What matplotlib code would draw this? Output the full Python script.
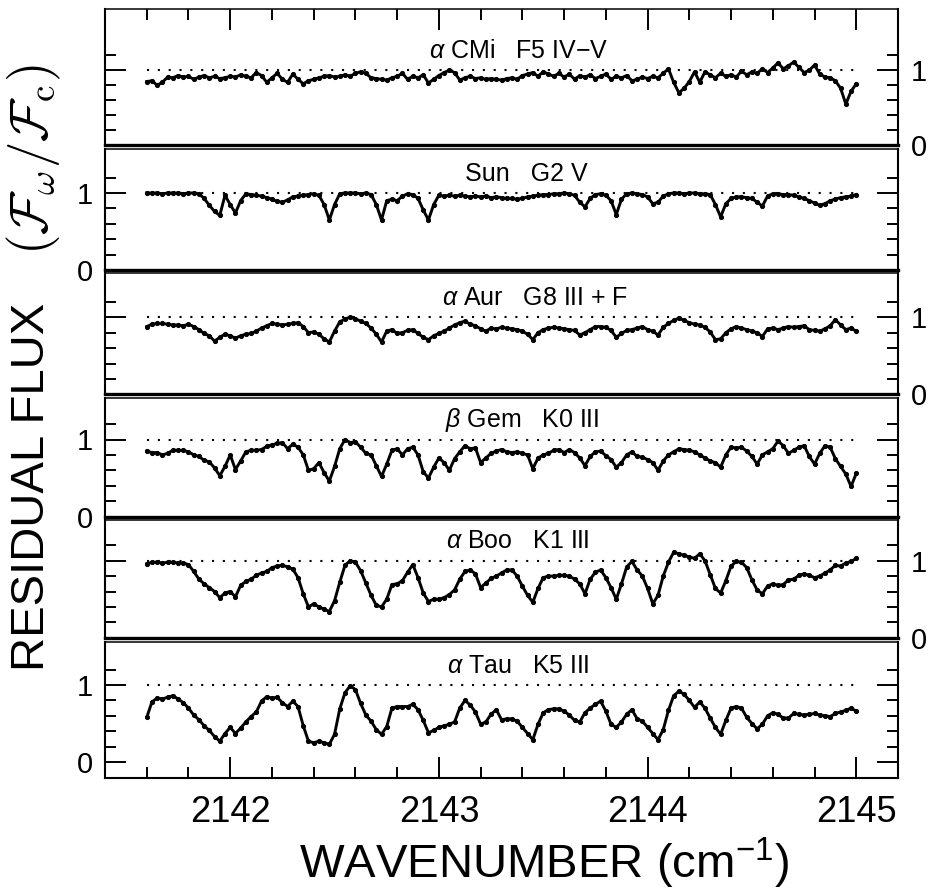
import numpy as np
import matplotlib
matplotlib.use("Agg")
import matplotlib.pyplot as plt
from matplotlib.ticker import MultipleLocator, FixedLocator

plt.rcParams['font.family'] = ['Liberation Sans', 'DejaVu Sans']
plt.rcParams['mathtext.fontset'] = 'custom'
plt.rcParams['mathtext.rm'] = 'Liberation Sans'
plt.rcParams['mathtext.it'] = 'Liberation Sans:italic'

# grille en nombre d'onde (pas de 0.025 cm-1)
wavenumber = np.linspace(2141.6, 2145.0, 137)

star_labels = [r"$\alpha$ CMi   F5 IV−V",
               "Sun   G2 V",
               r"$\alpha$ Aur   G8 III + F",
               r"$\beta$ Gem   K0 III",
               r"$\alpha$ Boo   K1 III",
               r"$\alpha$ Tau   K5 III"]

# flux residuel, un spectre par etoile
flux_cmi = [0.85, 0.86, 0.80, 0.84, 0.91, 0.90, 0.93, 0.91, 0.92, 0.88,
            0.91, 0.93, 0.90, 0.92, 0.89, 0.90, 0.92, 0.91, 0.94, 0.92,
            0.90, 0.97, 0.93, 0.84, 0.90, 0.96, 0.88, 0.84, 0.95, 0.88,
            0.82, 0.86, 0.88, 0.90, 0.92, 0.93, 0.91, 0.92, 0.94, 0.92,
            0.96, 0.98, 0.96, 0.90, 0.89, 0.88, 0.87, 0.90, 0.92, 0.96,
            0.88, 0.92, 0.90, 0.94, 0.83, 0.88, 0.93, 0.97, 1.00, 0.97,
            0.87, 0.90, 0.92, 0.89, 0.90, 0.88, 0.89, 0.88, 0.87, 0.89,
            0.90, 0.88, 0.93, 0.95, 0.97, 0.92, 0.98, 0.95, 0.92, 0.96,
            0.91, 0.95, 0.88, 0.93, 0.91, 0.94, 0.89, 0.92, 0.95, 0.88,
            0.92, 0.90, 0.93, 0.86, 0.88, 0.91, 0.89, 0.92, 0.90, 0.96,
            1.02, 0.84, 0.70, 0.76, 0.85, 0.98, 0.84, 0.98, 0.94, 0.90,
            0.96, 0.92, 0.94, 0.91, 0.99, 0.94, 0.98, 0.96, 1.02, 0.97,
            1.03, 1.10, 1.02, 1.06, 1.11, 1.04, 0.97, 1.00, 1.07, 0.95,
            0.91, 0.90, 0.86, 0.76, 0.55, 0.72, 0.82]

flux_sun = [1.00, 1.00, 1.00, 0.99, 1.00, 1.00, 1.00, 0.99, 1.00, 1.00,
            0.99, 0.93, 0.84, 0.76, 0.71, 0.97, 0.85, 0.74, 0.90, 0.99,
            0.98, 0.97, 0.96, 0.94, 0.92, 0.89, 0.88, 0.91, 0.95, 0.96,
            0.97, 0.98, 0.99, 0.97, 0.85, 0.65, 0.85, 0.99, 1.00, 1.00,
            1.00, 0.99, 1.00, 0.98, 0.85, 0.65, 0.90, 0.92, 0.90, 0.96,
            0.99, 0.98, 0.93, 0.78, 0.65, 0.85, 0.97, 0.96, 0.97, 0.96,
            0.97, 0.96, 0.95, 0.96, 0.95, 0.96, 0.94, 0.95, 0.94, 0.93,
            0.93, 0.92, 0.93, 0.95, 0.96, 0.97, 0.98, 0.98, 0.99, 0.99,
            1.00, 0.99, 0.97, 0.88, 0.82, 0.93, 0.98, 0.99, 0.97, 0.90,
            0.72, 0.92, 0.99, 1.00, 0.99, 0.98, 0.95, 0.86, 0.88, 0.96,
            0.99, 1.00, 1.00, 0.99, 1.00, 1.00, 0.99, 0.99, 0.98, 0.85,
            0.69, 0.86, 0.93, 0.95, 0.95, 0.94, 0.93, 0.88, 0.83, 0.96,
            0.99, 0.99, 0.98, 0.98, 0.97, 0.95, 0.93, 0.90, 0.87, 0.84,
            0.86, 0.90, 0.92, 0.94, 0.95, 0.96, 0.98]

flux_aur = [0.88, 0.91, 0.92, 0.92, 0.91, 0.90, 0.90, 0.89, 0.91, 0.88,
            0.84, 0.79, 0.76, 0.69, 0.74, 0.78, 0.76, 0.73, 0.76, 0.78,
            0.79, 0.82, 0.86, 0.89, 0.92, 0.91, 0.90, 0.91, 0.92, 0.93,
            0.88, 0.80, 0.81, 0.78, 0.72, 0.68, 0.82, 0.94, 0.98, 1.00,
            0.98, 0.95, 0.92, 0.86, 0.78, 0.68, 0.82, 0.84, 0.79, 0.80,
            0.83, 0.84, 0.79, 0.74, 0.71, 0.76, 0.79, 0.82, 0.86, 0.90,
            0.93, 0.95, 0.91, 0.89, 0.85, 0.82, 0.86, 0.85, 0.87, 0.86,
            0.85, 0.84, 0.82, 0.78, 0.71, 0.80, 0.84, 0.86, 0.87, 0.86,
            0.85, 0.84, 0.83, 0.77, 0.80, 0.84, 0.88, 0.88, 0.87, 0.83,
            0.74, 0.79, 0.83, 0.84, 0.86, 0.88, 0.84, 0.82, 0.77, 0.87,
            0.92, 0.96, 0.99, 0.96, 0.93, 0.91, 0.90, 0.87, 0.81, 0.71,
            0.72, 0.80, 0.85, 0.88, 0.86, 0.84, 0.82, 0.80, 0.75, 0.85,
            0.86, 0.84, 0.86, 0.88, 0.87, 0.88, 0.89, 0.84, 0.83, 0.82,
            0.85, 0.89, 0.97, 0.90, 0.84, 0.86, 0.82]

flux_gem = [0.85, 0.83, 0.83, 0.80, 0.82, 0.86, 0.86, 0.86, 0.84, 0.80,
            0.78, 0.73, 0.71, 0.63, 0.53, 0.65, 0.80, 0.61, 0.72, 0.84,
            0.86, 0.86, 0.87, 0.91, 0.93, 0.95, 0.96, 0.88, 0.94, 0.90,
            0.80, 0.60, 0.62, 0.70, 0.57, 0.46, 0.65, 0.88, 1.00, 0.96,
            0.97, 0.90, 0.82, 0.80, 0.66, 0.52, 0.68, 0.86, 0.88, 0.80,
            0.88, 0.90, 0.80, 0.58, 0.50, 0.64, 0.76, 0.70, 0.60, 0.75,
            0.84, 0.92, 0.88, 0.89, 0.70, 0.76, 0.82, 0.85, 0.87, 0.84,
            0.83, 0.84, 0.82, 0.80, 0.62, 0.76, 0.80, 0.82, 0.86, 0.87,
            0.83, 0.87, 0.83, 0.76, 0.66, 0.78, 0.84, 0.85, 0.79, 0.74,
            0.64, 0.70, 0.80, 0.84, 0.78, 0.77, 0.74, 0.70, 0.60, 0.72,
            0.80, 0.84, 0.88, 0.87, 0.86, 0.84, 0.80, 0.76, 0.72, 0.70,
            0.64, 0.80, 0.90, 0.89, 0.90, 0.85, 0.78, 0.68, 0.80, 0.84,
            0.88, 0.98, 0.92, 0.82, 0.86, 0.90, 0.92, 0.78, 0.68, 0.82,
            0.92, 0.90, 0.75, 0.65, 0.55, 0.39, 0.56]

flux_boo = [0.96, 0.98, 0.98, 0.97, 0.98, 0.98, 0.97, 0.97, 0.95, 0.86,
            0.76, 0.70, 0.65, 0.60, 0.52, 0.58, 0.60, 0.53, 0.68, 0.73,
            0.76, 0.81, 0.84, 0.86, 0.91, 0.93, 0.94, 0.92, 0.89, 0.78,
            0.57, 0.40, 0.44, 0.40, 0.37, 0.34, 0.48, 0.72, 0.94, 1.00,
            0.98, 0.87, 0.71, 0.55, 0.42, 0.40, 0.50, 0.69, 0.70, 0.74,
            0.85, 0.95, 0.78, 0.58, 0.47, 0.50, 0.50, 0.52, 0.56, 0.62,
            0.76, 0.86, 0.88, 0.83, 0.65, 0.71, 0.77, 0.80, 0.84, 0.88,
            0.88, 0.80, 0.67, 0.55, 0.46, 0.64, 0.78, 0.80, 0.80, 0.81,
            0.81, 0.80, 0.76, 0.70, 0.57, 0.76, 0.85, 0.88, 0.78, 0.65,
            0.50, 0.70, 0.92, 0.99, 0.88, 0.80, 0.64, 0.44, 0.55, 0.80,
            0.98, 1.11, 1.09, 1.07, 1.05, 1.03, 1.09, 1.00, 0.82, 0.64,
            0.58, 0.74, 0.93, 0.99, 0.98, 0.91, 0.75, 0.62, 0.57, 0.67,
            0.70, 0.68, 0.69, 0.75, 0.76, 0.81, 0.83, 0.81, 0.78, 0.80,
            0.84, 0.88, 0.94, 0.93, 0.97, 0.99, 1.03]

flux_tau = [0.58, 0.78, 0.83, 0.82, 0.84, 0.86, 0.82, 0.77, 0.70, 0.61,
            0.55, 0.47, 0.41, 0.33, 0.27, 0.37, 0.45, 0.37, 0.44, 0.52,
            0.59, 0.65, 0.79, 0.85, 0.83, 0.84, 0.77, 0.72, 0.79, 0.72,
            0.47, 0.27, 0.25, 0.27, 0.25, 0.23, 0.36, 0.69, 0.90, 0.99,
            0.94, 0.76, 0.61, 0.53, 0.42, 0.36, 0.46, 0.70, 0.72, 0.72,
            0.72, 0.75, 0.68, 0.54, 0.38, 0.41, 0.45, 0.47, 0.49, 0.52,
            0.70, 0.80, 0.74, 0.65, 0.49, 0.52, 0.62, 0.68, 0.55, 0.56,
            0.56, 0.53, 0.45, 0.37, 0.29, 0.49, 0.64, 0.68, 0.69, 0.69,
            0.66, 0.61, 0.54, 0.52, 0.64, 0.70, 0.75, 0.79, 0.66, 0.49,
            0.45, 0.52, 0.62, 0.68, 0.56, 0.53, 0.45, 0.37, 0.29, 0.42,
            0.67, 0.86, 0.92, 0.88, 0.80, 0.71, 0.78, 0.70, 0.57, 0.45,
            0.36, 0.54, 0.70, 0.72, 0.70, 0.58, 0.50, 0.43, 0.49, 0.60,
            0.64, 0.62, 0.57, 0.57, 0.63, 0.62, 0.61, 0.62, 0.63, 0.61,
            0.60, 0.59, 0.63, 0.65, 0.67, 0.70, 0.66]

spectres = [flux_cmi, flux_sun, flux_aur, flux_gem, flux_boo, flux_tau]

# position des panneaux en pixels (haut, bas, niveau zero) et echelle px par unite
W, H = 930, 889
haut = [9.3, 149.3, 273.3, 398.0, 520.0, 641.7]
bas = [145.3, 270.0, 394.3, 516.5, 637.7, 778.3]
zero = [145.3, 270.0, 394.3, 516.5, 637.7, 762.0]
px_unite = [75, 77, 77, 77, 77, 77]
cote_label = ['right', 'left', 'right', 'left', 'right', 'left']
x_titre = [2143.38, 2143.42, 2143.46, 2143.40, 2143.38, 2143.38]

x_gauche, x_droite = 105, 898

fig = plt.figure(figsize=(9.3, 8.89), dpi=100)

for k in range(6):
    ax = fig.add_axes([x_gauche / W, 1 - bas[k] / H,
                       (x_droite - x_gauche) / W, (bas[k] - haut[k]) / H])
    ax.plot(wavenumber, spectres[k], color='black', lw=2.1,
            marker='o', ms=2.7)
    # ligne pointillee du continuum
    ax.plot([wavenumber[0], wavenumber[-1]], [1, 1], color='black',
            lw=1.5, linestyle=(0, (1, 4.2)))
    ax.text(x_titre[k], 1.16, star_labels[k], ha='center', va='baseline',
            fontsize=18)

    ax.set_xlim(2141.4, 2145.2)
    ax.set_ylim((zero[k] - bas[k]) / px_unite[k], (zero[k] - haut[k]) / px_unite[k])

    ax.yaxis.set_major_locator(FixedLocator([0, 1]))
    ax.yaxis.set_minor_locator(FixedLocator([0.2, 0.4, 0.6, 0.8, 1.2]))
    ax.xaxis.set_major_locator(MultipleLocator(1))
    ax.xaxis.set_minor_locator(MultipleLocator(0.2))

    ax.tick_params(axis='y', which='both', direction='in', left=True,
                   right=True, width=1.4)
    ax.tick_params(axis='y', which='major', length=15, labelsize=21, pad=9)
    ax.tick_params(axis='y', which='minor', length=8)
    if cote_label[k] == 'right':
        ax.tick_params(axis='y', labelleft=False, labelright=True)
    else:
        ax.tick_params(axis='y', labelleft=True, labelright=False)

    ax.tick_params(axis='x', which='both', direction='in', width=1.4,
                   bottom=(k == 5), top=(k == 0), labelbottom=(k == 5))
    ax.tick_params(axis='x', which='major', length=15, labelsize=26, pad=12)
    ax.tick_params(axis='x', which='minor', length=8)

    for s in ['left', 'right']:
        ax.spines[s].set_linewidth(1.5)
    ax.spines['top'].set_linewidth(1.1)
    ax.spines['bottom'].set_linewidth(2.4 if k < 5 else 1.5)

fig.text(544 / W, 1 - 863 / H, r"WAVENUMBER (cm$^{-1}$)", ha='center',
         va='center', fontsize=34)

# titre de l'axe y en deux morceaux
fig.text(32 / W, 1 - 487 / H, "RESIDUAL FLUX", rotation=90,
         ha='center', va='center', fontsize=34)
fig.text(34 / W, 1 - 160 / H,
         r"$(\mathcal{F}_{\omega}/\mathcal{F}_{\rm c})$",
         rotation=90, ha='center', va='center', fontsize=38,
         math_fontfamily='cm')

fig.savefig("out.png", dpi=100)
